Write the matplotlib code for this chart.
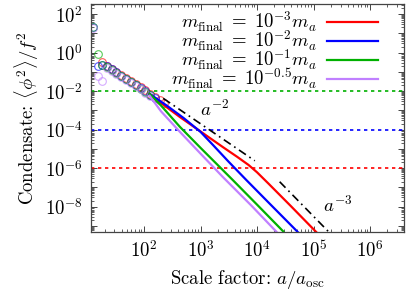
#!/usr/bin/env python3
"""Condensate decay vs scale factor for several final masses."""

import matplotlib
matplotlib.use('Agg')
import matplotlib.pyplot as plt
from matplotlib.ticker import LogLocator, FuncFormatter, NullFormatter
import numpy as np

plt.rcParams.update({
    'font.family': 'cmr10',
    'mathtext.fontset': 'cm',
    'font.size': 13.5,
    'axes.unicode_minus': False,
    'axes.formatter.use_mathtext': True,
    'figure.facecolor': 'white',
})

FS = 13.5

# series labels and colours
LABELS = [r'$m_{\rm final}\;=\;10^{-3}m_a$',
          r'$m_{\rm final}\;=\;10^{-2}m_a$',
          r'$m_{\rm final}\;=\;10^{-1}m_a$',
          r'$m_{\rm final}\;=\;10^{-0.5}m_a$']
COLORS = ['#ff0000', '#0000ff', '#00b000', '#c080ff']

# early-time samples (open circles), log10 a and log10 <phi^2>/f^2
CIRC_X = [
    [1.26, 1.34, 1.43, 1.51, 1.60, 1.68, 1.77, 1.85, 1.94, 2.02, 2.11, 2.19, 2.28, 2.36],
    [1.10, 1.19, 1.26, 1.34, 1.43, 1.51, 1.60, 1.68, 1.77, 1.85, 1.94, 2.02, 2.11, 2.19],
    [1.10, 1.19, 1.26, 1.34, 1.43, 1.51, 1.60, 1.68, 1.77, 1.85, 1.94, 2.02, 2.11],
    [1.10, 1.19, 1.26, 1.34, 1.43, 1.51, 1.60, 1.68, 1.77, 1.85, 1.94, 2.02, 2.11],
]
CIRC_Y = [
    [-0.50, -0.68, -0.84, -1.00, -1.17, -1.32, -1.49, -1.64, -1.81, -1.97, -2.14, -2.30, -2.47, -2.60],
    [1.30, -0.72, -0.64, -0.72, -0.87, -1.03, -1.20, -1.35, -1.52, -1.67, -1.84, -2.00, -2.18, -2.34],
    [1.30, -0.10, -0.66, -0.76, -0.90, -1.06, -1.22, -1.38, -1.54, -1.70, -1.87, -2.04, -2.22],
    [1.25, -1.20, -1.46, -0.82, -0.94, -1.10, -1.26, -1.42, -1.58, -1.74, -1.92, -2.10, -2.28],
]

# late-time evolution (solid lines)
LINE_X = [
    [2.10, 2.30, 2.635, 3.00, 3.40, 3.65, 3.85, 4.00, 4.20, 4.60, 5.06, 5.20],
    [2.10, 2.40, 2.70, 3.00, 3.22, 3.50, 3.81, 4.20, 4.72, 4.90],
    [2.10, 2.30, 2.635, 3.00, 3.57, 4.00, 4.46, 4.60],
    [2.10, 2.30, 2.635, 3.00, 3.40, 3.90, 4.34, 4.50],
]
LINE_Y = [
    [-2.15, -2.62, -3.35, -4.10, -4.92, -5.42, -5.84, -6.22, -6.80, -7.98, -9.36, -9.80],
    [-2.15, -2.75, -3.40, -4.12, -4.80, -5.68, -6.62, -7.78, -9.32, -9.90],
    [-2.15, -2.75, -3.86, -4.95, -6.62, -7.90, -9.28, -9.80],
    [-2.25, -3.05, -4.12, -5.25, -6.48, -7.95, -9.30, -9.85],
]

# reference power laws
A2_X = [2.34, 3.96]
A2_Y = [-2.38, -5.62]
A3_X = [4.40, 5.28]
A3_Y = [-6.71, -9.35]

# horizontal thresholds
HLINES = [-2, -4, -6]
HLINE_COLORS = ['#00b000', '#0000ff', '#ff0000']

fig = plt.figure(figsize=(4.07, 2.92), dpi=100)
ax = fig.add_axes([0.2236, 0.2055, 0.7690, 0.7808])

for lv, c in zip(HLINES, HLINE_COLORS):
    ax.axhline(10.0 ** lv, color=c, linestyle=(0, (2, 2.2)), linewidth=1.2)

for cx, cy, c in zip(CIRC_X, CIRC_Y, COLORS):
    ax.plot(10.0 ** np.array(cx), 10.0 ** np.array(cy), 'o', mfc='none',
            mec=c, mew=0.8, ms=5.5, alpha=0.65)

for lx, ly, c, lab in zip(LINE_X, LINE_Y, COLORS, LABELS):
    ax.plot(10.0 ** np.array(lx), 10.0 ** np.array(ly), '-', color=c,
            linewidth=1.6, label=lab)

for bx, by in [(A2_X, A2_Y), (A3_X, A3_Y)]:
    ax.plot(10.0 ** np.array(bx), 10.0 ** np.array(by), color='black',
            linewidth=1.2, linestyle=(0, (5, 2.5, 1, 2.5)))

ax.text(10 ** 2.99, 10 ** -3.32, r'$a^{-2}$', fontsize=FS)
ax.text(10 ** 5.16, 10 ** -8.29, r'$a^{-3}$', fontsize=FS)

ax.set_xscale('log')
ax.set_yscale('log')
ax.set_xlim(10 ** 1.062, 10 ** 6.60)
ax.set_ylim(10 ** -9.32, 10 ** 2.52)

ax.xaxis.set_major_locator(LogLocator(base=10, numticks=20))
ax.xaxis.set_minor_locator(LogLocator(base=10, subs=np.arange(2, 10), numticks=20))
ax.xaxis.set_major_formatter(FuncFormatter(lambda v, p: r'$10^{%d}$' % round(np.log10(v))))
ax.xaxis.set_minor_formatter(NullFormatter())

ax.yaxis.set_major_locator(LogLocator(base=10, numticks=30))
ax.yaxis.set_minor_locator(LogLocator(base=10, subs=np.arange(2, 10), numticks=30))


def ylab(v, p):
    e = int(round(np.log10(v)))
    return r'$10^{%d}$' % e if e % 2 == 0 else ''


ax.yaxis.set_major_formatter(FuncFormatter(ylab))
ax.yaxis.set_minor_formatter(NullFormatter())

ax.tick_params(which='both', direction='in', top=True, right=True,
               color='#444444', labelsize=FS)
ax.tick_params(which='major', length=4, width=0.7)
ax.tick_params(axis='x', which='major', pad=6)
ax.tick_params(axis='y', which='major', pad=6)
ax.tick_params(which='minor', length=2.2, width=0.6)
for s in ax.spines.values():
    s.set_color('#444444')
    s.set_linewidth(0.9)

ax.set_xlabel(r'Scale factor: $a/a_{\rm osc}$', fontsize=FS, labelpad=5)
ax.set_ylabel(r'Condensate: $\langle\phi^2\rangle/f^2$', fontsize=FS, labelpad=3)

ax.legend(loc='upper right', bbox_to_anchor=(0.935, 1.0), frameon=False,
          markerfirst=False, handlelength=2.72, handletextpad=0.55,
          labelspacing=-0.27, borderpad=0.3, borderaxespad=0.0, fontsize=FS)

fig.savefig('out.png', dpi=100)
